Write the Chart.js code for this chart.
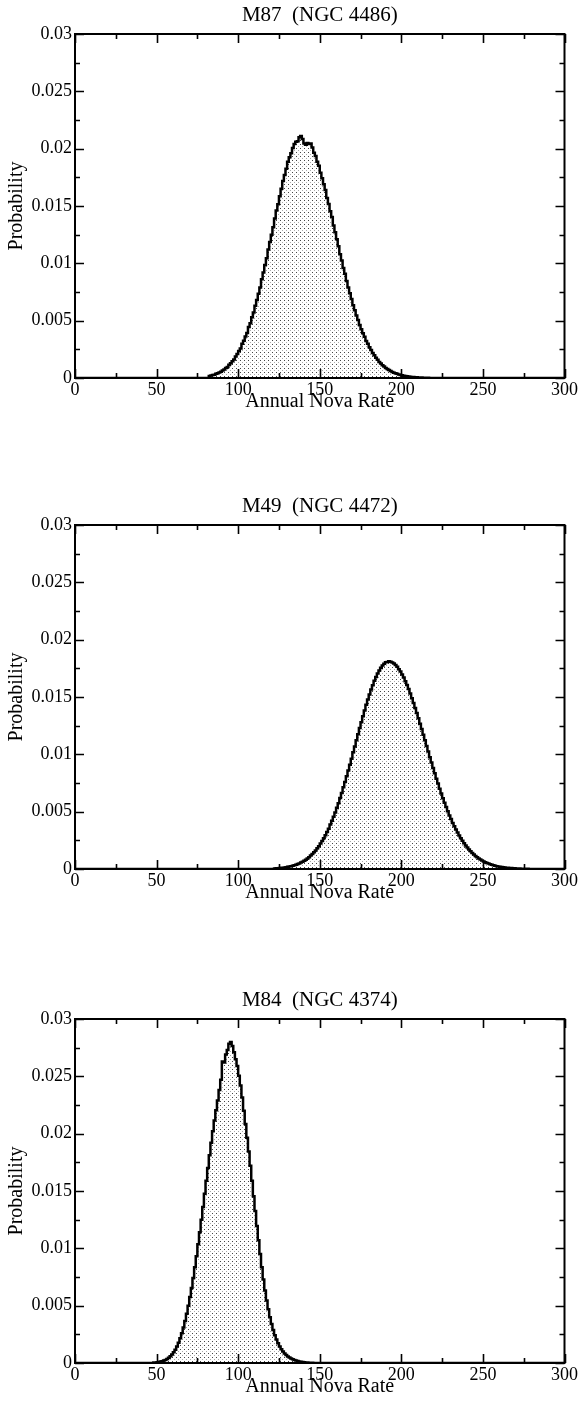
<!DOCTYPE html>
<html><head><meta charset="utf-8">
<script src="https://cdn.jsdelivr.net/npm/chart.js@4"></script>
<style>
html,body{margin:0;padding:0;background:#fff;overflow:hidden;width:579px;height:1402px}
canvas{position:absolute;left:0}
</style></head><body>
<canvas id="c1" width="579" height="416" style="top:0px;width:579px;height:416px"></canvas>
<canvas id="c2" width="579" height="416" style="top:491px;width:579px;height:416px"></canvas>
<canvas id="c3" width="579" height="416" style="top:985px;width:579px;height:416px"></canvas>
<script>
// ---- data ----
const panelTitles = ['M87  (NGC 4486)', 'M49  (NGC 4472)', 'M84  (NGC 4374)'];
const xAxisTitle = 'Annual Nova Rate';
const yAxisTitle = 'Probability';
const xTickValues = [0, 50, 100, 150, 200, 250, 300];
const xTickLabels = ['0', '50', '100', '150', '200', '250', '300'];
const xMinorTicks = [25, 75, 125, 175, 225, 275];
const yTickValues = [0, 0.005, 0.01, 0.015, 0.02, 0.025, 0.03];
const yTickLabels = ['0', '0.005', '0.01', '0.015', '0.02', '0.025', '0.03'];
const yMinorTicks = [0.0025, 0.0075, 0.0125, 0.0175, 0.0225, 0.0275];

// M87: bin start (annual nova rate) and probability per bin
const m87Rate = [0,
  82, 83, 84, 85, 86, 87, 88, 89, 90, 91,
  92, 93, 94, 95, 96, 97, 98, 99, 100, 101,
  102, 103, 104, 105, 106, 107, 108, 109, 110, 111,
  112, 113, 114, 115, 116, 117, 118, 119, 120, 121,
  122, 123, 124, 125, 126, 127, 128, 129, 130, 131,
  132, 133, 134, 135, 136, 137, 138, 139, 140, 141,
  142, 143, 144, 145, 146, 147, 148, 149, 150, 151,
  152, 153, 154, 155, 156, 157, 158, 159, 160, 161,
  162, 163, 164, 165, 166, 167, 168, 169, 170, 171,
  172, 173, 174, 175, 176, 177, 178, 179, 180, 181,
  182, 183, 184, 185, 186, 187, 188, 189, 190, 191,
  192, 193, 194, 195, 196, 197, 198, 199, 200, 201,
  202, 203, 204, 205, 206, 207, 208, 209, 210, 211,
  212, 213, 214, 215, 216, 217, 218, 219,
  220, 300];
const m87Prob = [0,
  0.00018, 0.00021, 0.00026, 0.00029, 0.00036, 0.00041, 0.00049, 0.00055, 0.00066, 0.00074,
  0.00088, 0.00097, 0.00115, 0.00128, 0.00146, 0.00162, 0.00188, 0.00209, 0.00235, 0.00258,
  0.00298, 0.00325, 0.00362, 0.00392, 0.00445, 0.00478, 0.00530, 0.00572, 0.00630, 0.00680,
  0.00735, 0.00790, 0.00862, 0.00920, 0.00985, 0.01045, 0.01120, 0.01185, 0.01250, 0.01315,
  0.01392, 0.01460, 0.01515, 0.01585, 0.01650, 0.01718, 0.01770, 0.01825, 0.01885, 0.01925,
  0.01960, 0.02005, 0.02040, 0.02060, 0.02065, 0.02100, 0.02110, 0.02085, 0.02045, 0.02035,
  0.02050, 0.02040, 0.02045, 0.02010, 0.01965, 0.01935, 0.01885, 0.01850, 0.01790, 0.01742,
  0.01690, 0.01640, 0.01570, 0.01518, 0.01455, 0.01405, 0.01330, 0.01270, 0.01210, 0.01150,
  0.01080, 0.01025, 0.00960, 0.00910, 0.00845, 0.00790, 0.00740, 0.00690, 0.00635, 0.00590,
  0.00545, 0.00505, 0.00462, 0.00425, 0.00390, 0.00360, 0.00322, 0.00298, 0.00268, 0.00245,
  0.00218, 0.00198, 0.00176, 0.00160, 0.00140, 0.00126, 0.00112, 0.00100, 0.00088, 0.00078,
  0.00069, 0.00061, 0.00053, 0.00046, 0.00041, 0.00036, 0.00031, 0.00027, 0.00023, 0.00020,
  0.00017, 0.00015, 0.00013, 0.00011, 0.00009, 0.00008, 0.00007, 0.00006, 0.00005, 0.00004,
  0.00004, 0.00003, 0.00003, 0.00002, 0.00002, 0.00001, 0.00001, 0.00001,
  0, 0];

// M49
const m49Rate = [0,
  122, 123, 124, 125, 126, 127, 128, 129, 130, 131,
  132, 133, 134, 135, 136, 137, 138, 139, 140, 141,
  142, 143, 144, 145, 146, 147, 148, 149, 150, 151,
  152, 153, 154, 155, 156, 157, 158, 159, 160, 161,
  162, 163, 164, 165, 166, 167, 168, 169, 170, 171,
  172, 173, 174, 175, 176, 177, 178, 179, 180, 181,
  182, 183, 184, 185, 186, 187, 188, 189, 190, 191,
  192, 193, 194, 195, 196, 197, 198, 199, 200, 201,
  202, 203, 204, 205, 206, 207, 208, 209, 210, 211,
  212, 213, 214, 215, 216, 217, 218, 219, 220, 221,
  222, 223, 224, 225, 226, 227, 228, 229, 230, 231,
  232, 233, 234, 235, 236, 237, 238, 239, 240, 241,
  242, 243, 244, 245, 246, 247, 248, 249, 250, 251,
  252, 253, 254, 255, 256, 257, 258, 259, 260, 261,
  262, 263, 264, 265, 266, 267, 268, 269, 270, 271,
  272, 273, 274, 275, 276, 277, 278, 279, 280, 281,
  282, 283, 300];
const m49Prob = [0,
  0.00005, 0.00006, 0.00007, 0.00008, 0.00010, 0.00011, 0.00014, 0.00016, 0.00019, 0.00021,
  0.00025, 0.00029, 0.00033, 0.00037, 0.00043, 0.00049, 0.00056, 0.00063, 0.00072, 0.00081,
  0.00092, 0.00103, 0.00117, 0.00130, 0.00146, 0.00162, 0.00181, 0.00199, 0.00222, 0.00244,
  0.00268, 0.00294, 0.00323, 0.00352, 0.00387, 0.00420, 0.00455, 0.00492, 0.00535, 0.00574,
  0.00620, 0.00663, 0.00712, 0.00758, 0.00808, 0.00858, 0.00910, 0.00962, 0.01018, 0.01068,
  0.01122, 0.01175, 0.01230, 0.01280, 0.01332, 0.01382, 0.01432, 0.01478, 0.01522, 0.01565,
  0.01603, 0.01642, 0.01675, 0.01705, 0.01732, 0.01755, 0.01775, 0.01790, 0.01802, 0.01806,
  0.01812, 0.01808, 0.01800, 0.01792, 0.01778, 0.01764, 0.01742, 0.01722, 0.01696, 0.01670,
  0.01638, 0.01605, 0.01570, 0.01530, 0.01490, 0.01448, 0.01405, 0.01360, 0.01315, 0.01266,
  0.01220, 0.01170, 0.01122, 0.01072, 0.01025, 0.00975, 0.00928, 0.00880, 0.00835, 0.00788,
  0.00745, 0.00700, 0.00658, 0.00616, 0.00578, 0.00540, 0.00503, 0.00467, 0.00435, 0.00402,
  0.00373, 0.00344, 0.00318, 0.00292, 0.00268, 0.00246, 0.00225, 0.00205, 0.00187, 0.00170,
  0.00154, 0.00140, 0.00126, 0.00114, 0.00102, 0.00092, 0.00083, 0.00074, 0.00066, 0.00059,
  0.00052, 0.00047, 0.00041, 0.00037, 0.00032, 0.00029, 0.00025, 0.00022, 0.00019, 0.00017,
  0.00015, 0.00013, 0.00011, 0.00010, 0.00009, 0.00008, 0.00007, 0.00006, 0.00005, 0.00004,
  0.00004, 0.00003, 0.00003, 0.00002, 0.00002, 0.00002, 0.00001, 0.00001, 0.00001, 0.00001,
  0.00001, 0, 0];

// M84
const m84Rate = [0,
  48, 49, 50, 51, 52, 53, 54, 55, 56, 57,
  58, 59, 60, 61, 62, 63, 64, 65, 66, 67,
  68, 69, 70, 71, 72, 73, 74, 75, 76, 77,
  78, 79, 80, 81, 82, 83, 84, 85, 86, 87,
  88, 89, 90, 91, 92, 93, 94, 95, 96, 97,
  98, 99, 100, 101, 102, 103, 104, 105, 106, 107,
  108, 109, 110, 111, 112, 113, 114, 115, 116, 117,
  118, 119, 120, 121, 122, 123, 124, 125, 126, 127,
  128, 129, 130, 131, 132, 133, 134, 135, 136, 137,
  138, 139, 140, 141, 142, 143, 144, 145, 146, 147,
  148, 300];
const m84Prob = [0,
  0.00004, 0.00005, 0.00007, 0.00009, 0.00012, 0.00016, 0.00021, 0.00027, 0.00035, 0.00045,
  0.00058, 0.00074, 0.00093, 0.00116, 0.00144, 0.00177, 0.00215, 0.00260, 0.00310, 0.00366,
  0.00430, 0.00500, 0.00575, 0.00655, 0.00742, 0.00835, 0.00932, 0.01035, 0.01140, 0.01250,
  0.01360, 0.01475, 0.01590, 0.01700, 0.01812, 0.01920, 0.02020, 0.02115, 0.02205, 0.02290,
  0.02380, 0.02470, 0.02630, 0.02620, 0.02690, 0.02730, 0.02785, 0.02800, 0.02765, 0.02710,
  0.02650, 0.02590, 0.02505, 0.02420, 0.02315, 0.02200, 0.02085, 0.01965, 0.01845, 0.01720,
  0.01590, 0.01455, 0.01325, 0.01195, 0.01070, 0.00950, 0.00835, 0.00728, 0.00632, 0.00545,
  0.00468, 0.00400, 0.00340, 0.00288, 0.00243, 0.00205, 0.00172, 0.00144, 0.00120, 0.00100,
  0.00083, 0.00069, 0.00057, 0.00047, 0.00039, 0.00032, 0.00026, 0.00021, 0.00017, 0.00014,
  0.00011, 0.00009, 0.00007, 0.00005, 0.00004, 0.00003, 0.00002, 0.00002, 0.00001, 0.00001,
  0, 0];

// ---- drawing ----
const SERIF = '"Liberation Serif", "Times New Roman", serif';

function makePattern(ctx) {
  const c = document.createElement('canvas');
  c.width = 4; c.height = 4;
  const g = c.getContext('2d');
  g.fillStyle = '#fff'; g.fillRect(0, 0, 4, 4);
  g.fillStyle = '#444'; g.fillRect(0, 0, 1, 1);
  g.fillStyle = '#aaa'; g.fillRect(2, 2, 1, 1);
  return ctx.createPattern(c, 'repeat');
}

const framePlugin = {
  id: 'frame',
  afterDatasetsDraw(chart, args, opts) {
    const {ctx, chartArea: a, scales: {x, y}} = chart;
    ctx.save();
    ctx.strokeStyle = '#000';
    ctx.lineWidth = 2;
    ctx.strokeRect(a.left, a.top, a.right - a.left, a.bottom - a.top);
    ctx.lineWidth = 1.6;
    ctx.beginPath();
    const xt = (vals, len) => vals.forEach(v => {
      const p = Math.round(x.getPixelForValue(v)) + 0.5;
      ctx.moveTo(p, a.bottom); ctx.lineTo(p, a.bottom - len);
      ctx.moveTo(p, a.top); ctx.lineTo(p, a.top + len);
    });
    const yt = (vals, len) => vals.forEach(v => {
      const p = Math.round(y.getPixelForValue(v)) + 0.5;
      ctx.moveTo(a.left, p); ctx.lineTo(a.left + len, p);
      ctx.moveTo(a.right, p); ctx.lineTo(a.right - len, p);
    });
    xt(xTickValues, 9); xt(xMinorTicks, 5);
    yt(yTickValues, 9); yt(yMinorTicks, 5);
    ctx.stroke();
    ctx.fillStyle = '#000';
    ctx.font = '21px ' + SERIF;
    ctx.textAlign = 'center';
    ctx.textBaseline = 'middle';
    ctx.fillText(opts.title, (a.left + a.right) / 2, a.top - 19);
    ctx.restore();
  }
};

function makeChart(id, title, rates, probs) {
  if (rates.length !== probs.length) console.error('length mismatch', id, rates.length, probs.length);
  const canvas = document.getElementById(id);
  const ctx = canvas.getContext('2d');
  return new Chart(ctx, {
    type: 'line',
    data: {
      datasets: [{
        data: rates.map((r, i) => ({x: r, y: probs[i]})),
        stepped: 'before',
        borderColor: '#000',
        borderWidth: 2.5,
        pointRadius: 0,
        fill: 'origin',
        backgroundColor: makePattern(ctx)
      }]
    },
    options: {
      responsive: false,
      animation: false,
      devicePixelRatio: 1,
      layout: {padding: {top: 34, right: 14, left: 0, bottom: 0}},
      plugins: {
        legend: {display: false},
        tooltip: {enabled: false},
        title: {display: false},
        frame: {title: title}
      },
      scales: {
        x: {
          type: 'linear', min: 0, max: 300,
          afterBuildTicks: s => { s.ticks = xTickValues.map(v => ({value: v})); },
          ticks: {font: {family: SERIF, size: 18}, color: '#000', padding: 1, maxRotation: 0, autoSkip: false,
                  callback: (v, i) => xTickLabels[i]},
          grid: {display: false, drawTicks: false},
          border: {display: false},
          title: {display: true, text: xAxisTitle, color: '#000', font: {family: SERIF, size: 20},
                  padding: {top: 0, bottom: 2}},
          afterFit: s => { s.height = 38; }
        },
        y: {
          type: 'linear', min: 0, max: 0.03,
          afterBuildTicks: s => { s.ticks = yTickValues.map(v => ({value: v})); },
          ticks: {font: {family: SERIF, size: 18}, color: '#000', padding: 3, autoSkip: false,
                  callback: (v, i) => yTickLabels[i]},
          grid: {display: false, drawTicks: false},
          border: {display: false},
          title: {display: true, text: yAxisTitle, color: '#000', font: {family: SERIF, size: 20},
                  padding: {top: 5, bottom: 0}},
          afterFit: s => { s.width = 75; }
        }
      }
    },
    plugins: [framePlugin]
  });
}

makeChart('c1', panelTitles[0], m87Rate, m87Prob);
makeChart('c2', panelTitles[1], m49Rate, m49Prob);
makeChart('c3', panelTitles[2], m84Rate, m84Prob);
</script>
</body></html>
